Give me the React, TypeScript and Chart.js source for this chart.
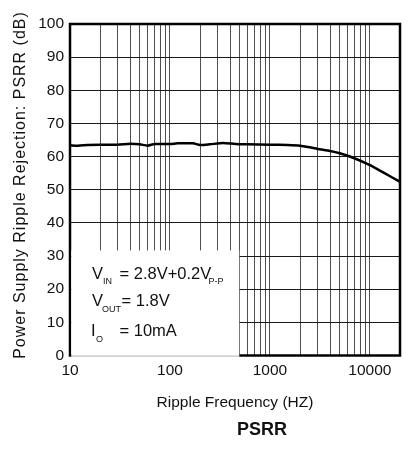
import React, { useEffect, useRef } from "react";
import { Chart, registerables } from "chart.js";

Chart.register(...registerables);

const freqHz = [10, 12, 15, 20, 30, 40, 50, 60, 70, 100, 120, 170, 200, 250, 340, 450, 600, 1000, 1500, 2000, 2500, 3000, 4000, 5000, 7000, 10000, 14000, 20000];
const psrrDb = [63.4, 63.3, 63.5, 63.6, 63.6, 63.9, 63.7, 63.3, 63.8, 63.8, 64.0, 64.0, 63.5, 63.7, 64.1, 63.8, 63.7, 63.6, 63.5, 63.3, 62.8, 62.3, 61.7, 61.0, 59.5, 57.4, 55.0, 52.4];
const xGridTicks = [10, 20, 30, 40, 50, 60, 70, 80, 90, 100, 200, 300, 400, 500, 600, 700, 800, 900, 1000, 2000, 3000, 4000, 5000, 6000, 7000, 8000, 9000, 10000, 20000];
const xLabelTicks = [10, 100, 1000, 10000];
const yTitle = "Power Supply Ripple Rejection: PSRR (dB)";
const xTitle = "Ripple Frequency (HZ)";
const caption = "PSRR";

const FONT = "'Liberation Sans', Arial, sans-serif";

const overlay = {
  id: "overlay",
  afterDraw(chart: any) {
    const ctx = chart.ctx as CanvasRenderingContext2D;
    const { left, right, top, bottom } = chart.chartArea;
    const xs = chart.scales.x;
    const ys = chart.scales.y;
    ctx.save();
    // plot frame
    ctx.strokeStyle = "#000";
    ctx.lineWidth = 2.5;
    ctx.strokeRect(left, top, right - left, bottom - top);

    // condition box
    const bx0 = left + 1.3;
    const bx1 = xs.getPixelForValue(500) - 0.6;
    const by0 = ys.getPixelForValue(31.7);
    const by1 = bottom + 1.4;
    ctx.fillStyle = "#fff";
    ctx.fillRect(bx0, by0, bx1 - bx0, by1 - by0);
    ctx.strokeStyle = "#bbb";
    ctx.lineWidth = 1;
    ctx.beginPath();
    ctx.moveTo(bx0, bottom + 0.5);
    ctx.lineTo(bx1, bottom + 0.5);
    ctx.stroke();

    ctx.fillStyle = "#111";
    ctx.textAlign = "left";
    ctx.textBaseline = "alphabetic";
    const main = `16.5px ${FONT}`;
    const sub = `9px ${FONT}`;
    // line 1
    ctx.font = main;
    ctx.fillText("V", 92, 279);
    ctx.font = sub;
    ctx.fillText("IN", 103, 284);
    ctx.font = main;
    ctx.fillText("= 2.8V+0.2V", 119.5, 279);
    ctx.font = sub;
    ctx.fillText("P-P", 208.5, 284);
    // line 2
    ctx.font = main;
    ctx.fillText("V", 92, 306);
    ctx.font = sub;
    ctx.fillText("OUT", 102, 312);
    ctx.font = main;
    ctx.fillText("= 1.8V", 121.5, 306);
    // line 3
    ctx.font = main;
    ctx.fillText("I", 91, 336);
    ctx.font = sub;
    ctx.fillText("O", 96, 342);
    ctx.font = main;
    ctx.fillText("= 10mA", 119.5, 336);

    // y title
    ctx.save();
    ctx.translate(25, 185);
    ctx.rotate(-Math.PI / 2);
    ctx.font = `16px ${FONT}`;
    (ctx as any).letterSpacing = "1px";
    ctx.textAlign = "center";
    ctx.fillStyle = "#111";
    ctx.fillText(yTitle, 0, 0);
    ctx.restore();

    // x title
    ctx.font = `15.5px ${FONT}`;
    ctx.textAlign = "center";
    ctx.fillStyle = "#111";
    ctx.fillText(xTitle, 235, 407);

    // caption
    ctx.font = `bold 18px ${FONT}`;
    ctx.fillText(caption, 262, 435);
    ctx.restore();
  },
};

export default function App() {
  const ref = useRef<HTMLCanvasElement | null>(null);
  useEffect(() => {
    if (!ref.current) return;
    const chart = new Chart(ref.current, {
      type: "line",
      data: {
        datasets: [
          {
            data: freqHz.map((f, i) => ({ x: f, y: psrrDb[i] })),
            borderColor: "#000",
            borderWidth: 2.5,
            pointRadius: 0,
            tension: 0.2,
            fill: false,
          },
        ],
      },
      options: {
        animation: false,
        responsive: false,
        devicePixelRatio: 1,
        layout: { padding: { top: 24, right: 14, left: 0, bottom: 0 } },
        plugins: { legend: { display: false }, tooltip: { enabled: false }, title: { display: false } },
        scales: {
          x: {
            type: "logarithmic",
            min: 10,
            max: 20000,
            afterBuildTicks: (scale: any) => {
              scale.ticks = xGridTicks.map((v) => ({ value: v }));
            },
            afterFit: (scale: any) => {
              scale.height = 451 - 355.5;
            },
            grid: { color: "#505050", lineWidth: 1, drawTicks: false },
            border: { display: false },
            ticks: {
              autoSkip: false,
              maxRotation: 0,
              padding: 6,
              color: "#111",
              font: { family: FONT, size: 15.5 },
              callback: (v: any) => (xLabelTicks.includes(Number(v)) ? String(v) : ""),
            },
          },
          y: {
            type: "linear",
            min: 0,
            max: 100,
            afterFit: (scale: any) => {
              scale.width = 70;
            },
            grid: { color: "#1a1a1a", lineWidth: 1, drawTicks: false },
            border: { display: false },
            ticks: {
              stepSize: 10,
              padding: 6,
              color: "#111",
              font: { family: FONT, size: 15.5 },
            },
          },
        },
      },
      plugins: [overlay],
    } as any);
    return () => chart.destroy();
  }, []);
  return (
    <div style={{ position: "fixed", left: 0, top: 0, width: 414, height: 451, background: "#fff" }}>
      <canvas ref={ref} width={414} height={451} style={{ width: 414, height: 451, display: "block" }} />
    </div>
  );
}
